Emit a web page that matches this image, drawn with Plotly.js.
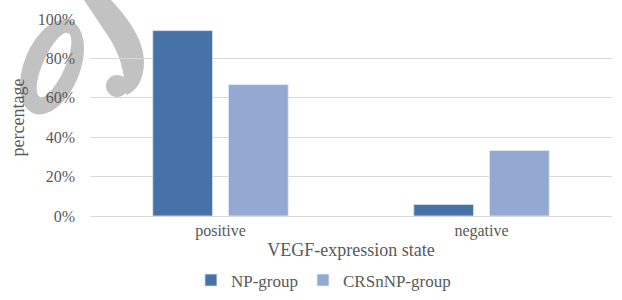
<!DOCTYPE html>
<html>
<head>
<meta charset="utf-8">
<script src="https://cdn.plot.ly/plotly-3.0.1.min.js"></script>
<style>html,body{margin:0;padding:0;background:#fff;}#chart{width:622px;height:300px;}</style>
</head>
<body>
<div id="chart"></div>
<script>
var categories = ["positive", "negative"];
var npGroup = [0.941, 0.059];
var crsnpGroup = [0.667, 0.333];
var seriesNames = ["NP-group", "CRSnNP-group"];
var yTickVals = [0, 0.2, 0.4, 0.6, 0.8, 1.0];
var yTickText = ["0%", "20%", "40%", "60%", "80%", "100%"];

var font = "'Liberation Serif', 'Times New Roman', serif";

// faint watermark seen in the reference (decoration, not data)
var wm = '<svg xmlns="http://www.w3.org/2000/svg" width="150" height="120" viewBox="0 0 150 120">' +
  '<ellipse cx="52" cy="67" rx="28" ry="50" fill="#c2c2c2" transform="rotate(22 52 67)"/>' +
  '<ellipse cx="54" cy="65" rx="11" ry="35" fill="#ffffff" transform="rotate(24 54 65)"/>' +
  '<g fill="#c2c2c2">' +
  '<path d="M 84 0 L 111 0 C 128 18, 144 40, 144 62 C 144 80, 136 92, 126 95 L 124 78 C 122 62, 116 48, 108 36 C 100 24, 92 12, 84 0 Z"/>' +
  '<circle cx="117" cy="86" r="11"/>' +
  '</g></svg>';

var traces = [
  {type: "bar", x: categories, y: npGroup, name: seriesNames[0],
   marker: {color: "#4672A8", line: {color: "#dfe6f0", width: 0.8}}},
  {type: "bar", x: categories, y: crsnpGroup, name: seriesNames[1],
   marker: {color: "#93A9D1", line: {color: "#e6ecf5", width: 0.8}}}
];
var layout = {
  width: 622, height: 300,
  margin: {l: 90, r: 10, t: 19, b: 84},
  paper_bgcolor: "#fff", plot_bgcolor: "rgba(0,0,0,0)",
  barmode: "group", bargap: 0.42, bargroupgap: 0.21,
  font: {family: font, color: "#595959", size: 16},
  showlegend: true,
  legend: {orientation: "h", x: 0.52, xanchor: "center", xref: "container",
           y: 0.005, yanchor: "bottom", yref: "container",
           font: {family: font, size: 17, color: "#595959"}, tracegroupgap: 0},
  xaxis: {showgrid: false, showline: true, linecolor: "#d9d9d9", linewidth: 1,
          ticks: "", tickfont: {family: font, size: 16, color: "#595959"},
          title: {text: "VEGF-expression state", font: {family: font, size: 18, color: "#595959"}, standoff: 4}},
  yaxis: {range: [0, 1.0], tickvals: yTickVals, ticktext: yTickText,
          showgrid: true, gridcolor: "#d9d9d9", gridwidth: 1, zeroline: false,
          ticks: "", ticklabelstandoff: 14,
          tickfont: {family: font, size: 16, color: "#595959"},
          title: {text: "percentage", font: {family: font, size: 18, color: "#595959"}, standoff: 8}},
  images: [{source: "data:image/svg+xml;charset=utf-8," + encodeURIComponent(wm),
            xref: "paper", yref: "paper", x: -90 / 522, y: 216 / 197,
            sizex: 150 / 522, sizey: 120 / 197, xanchor: "left", yanchor: "top",
            sizing: "stretch", layer: "below"}]
};
Plotly.newPlot("chart", traces, layout, {displayModeBar: false, staticPlot: true});
</script>
</body>
</html>
